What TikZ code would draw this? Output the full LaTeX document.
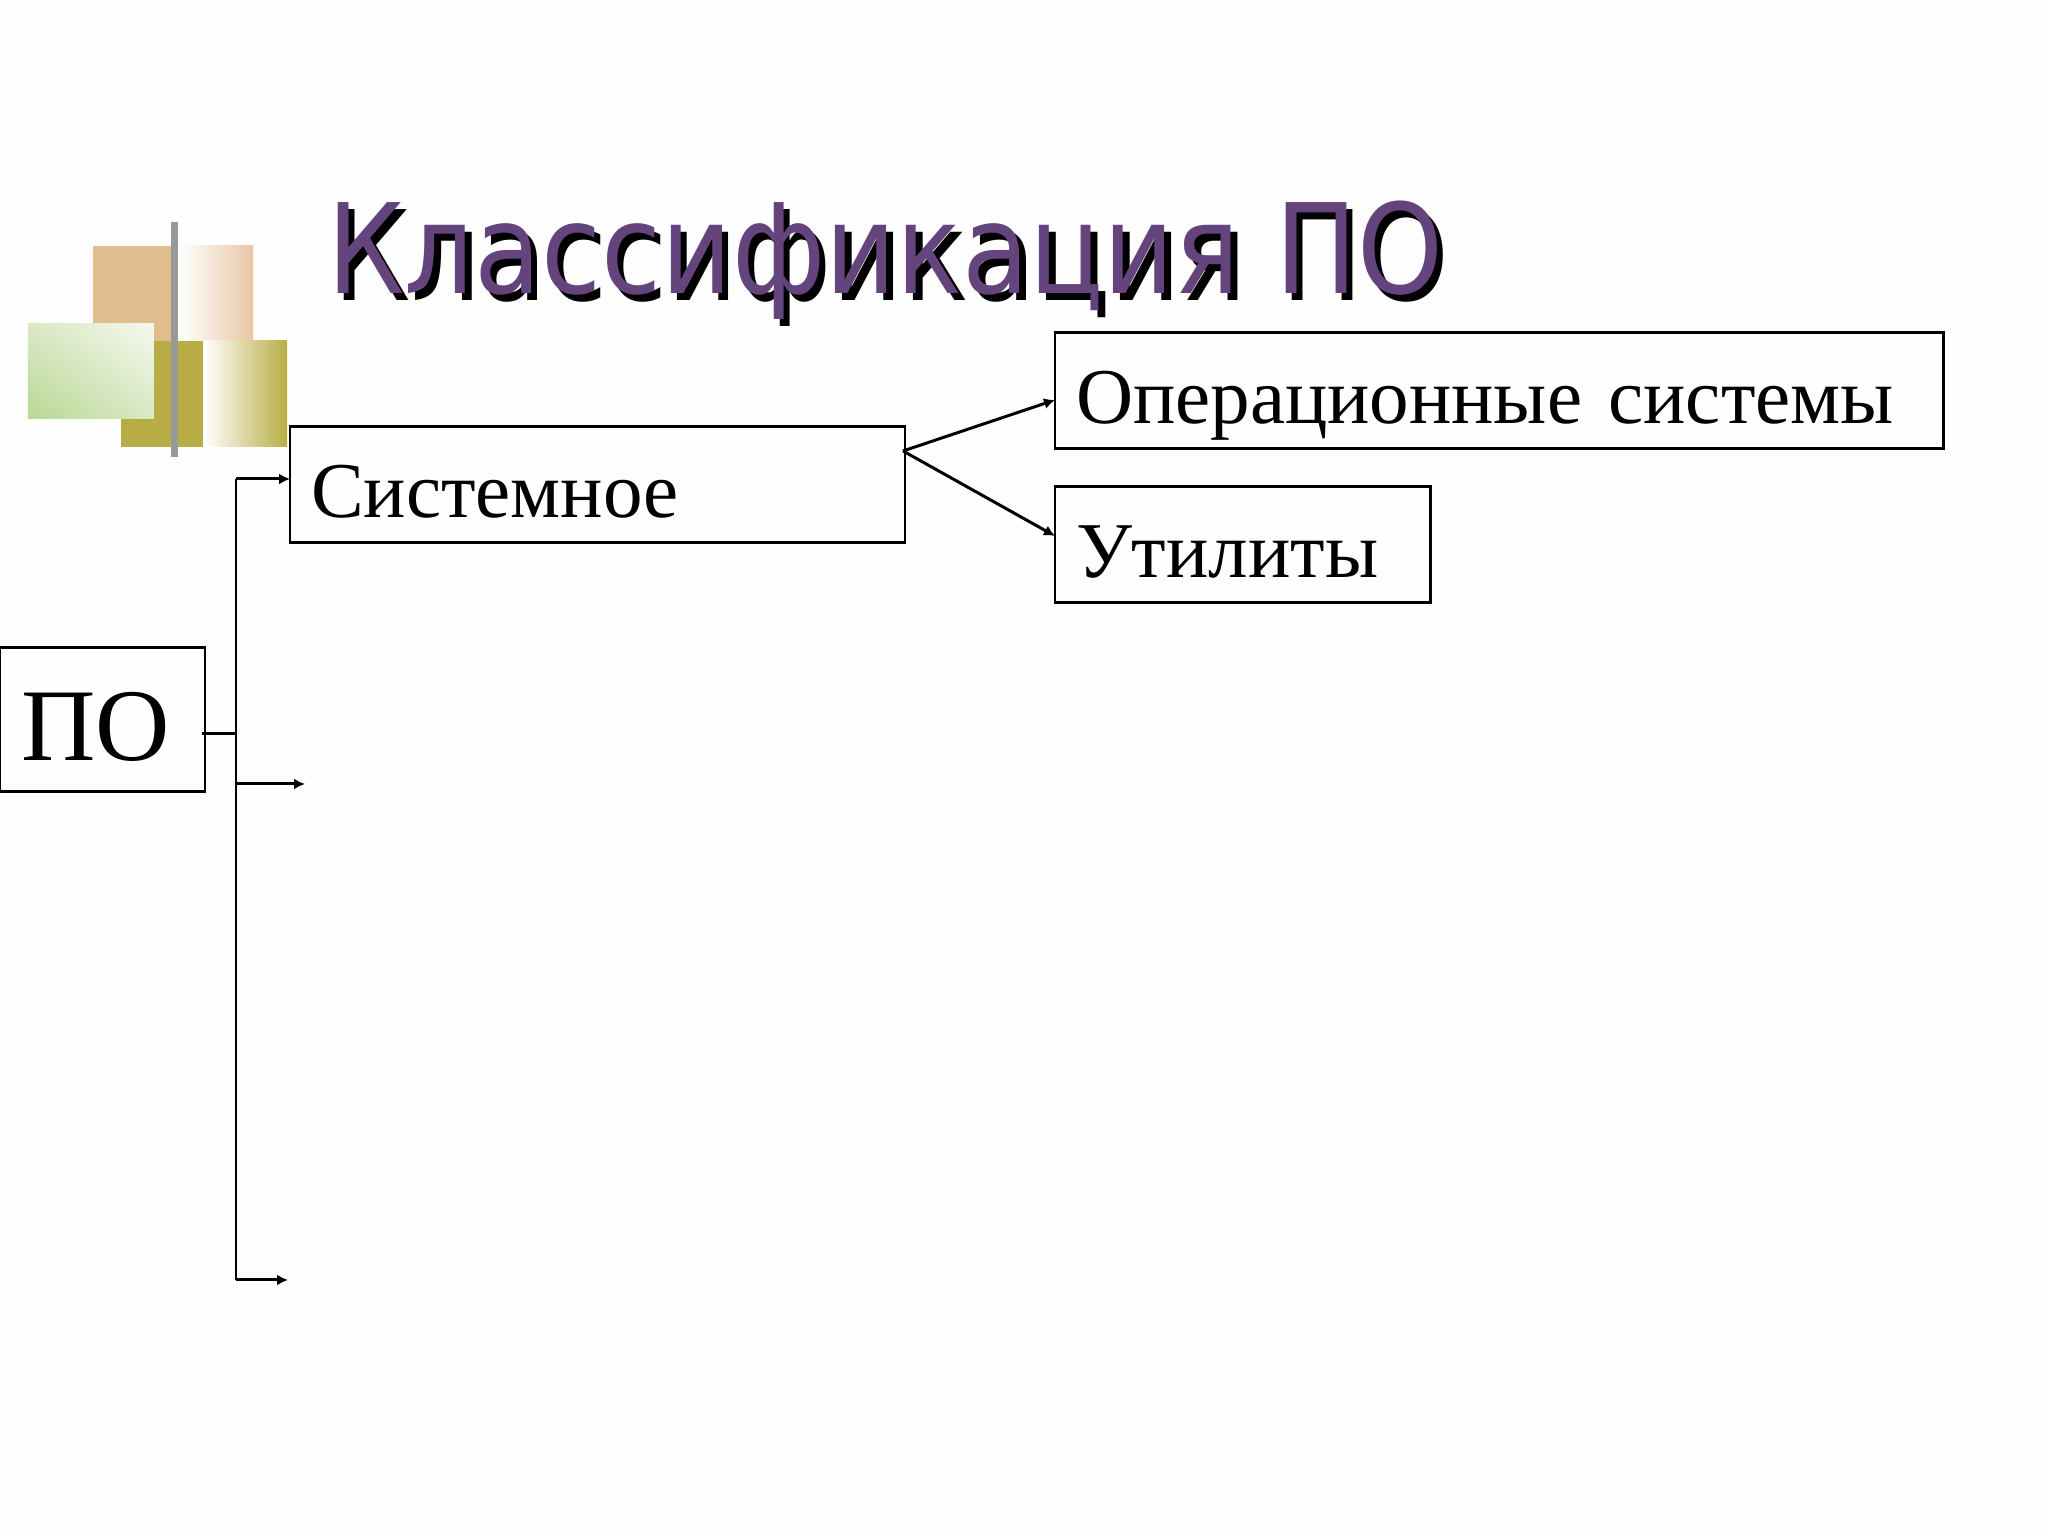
\documentclass[tikz,border=0pt]{standalone}
\usepackage{fontspec}
\setmainfont{Liberation Serif}
\newfontfamily\titlefont{DejaVu Sans}[FakeStretch=0.875]
\usetikzlibrary{arrows.meta,shadings}
\definecolor{pagewhite}{RGB}{254,254,254}
\definecolor{titlepurple}{RGB}{100,68,125}
\definecolor{logotan}{RGB}{224,189,140}
\definecolor{logotanlight}{RGB}{232,200,165}
\definecolor{logoolive}{RGB}{184,173,69}
\definecolor{logogreen}{RGB}{184,216,148}
\definecolor{logogreenlight}{RGB}{244,248,238}
\definecolor{logogreenmid}{RGB}{218,232,196}
\tikzset{
  boxnode/.style={draw=black, line width=0.85pt, rectangle, inner sep=0pt, inner xsep=0.21cm, outer sep=0pt,
    align=left, minimum height=1.16cm, text height=0.66cm, text depth=0pt, font=\fontsize{22.5pt}{25pt}\selectfont},
  titlenode/.style={anchor=base west, inner sep=0pt, font=\titlefont\fontsize{35.5pt}{40pt}\selectfont},
}
\begin{document}
\begin{tikzpicture}[%
      >={Latex[length=0.11cm,width=0.11cm]},
      ]
      \useasboundingbox (0,0) rectangle (20.48,15.36);
      \fill [color=pagewhite] (0,0) rectangle (20.48,15.36);

      \fill [color=logotan] (0.93,11.95) rectangle (1.71,12.90);
      \shade [left color=white, right color=logotanlight] (1.78,11.95) rectangle (2.53,12.90);
      \fill [color=logoolive] (1.21,10.89) rectangle (2.03,11.95);
      \shade [left color=white, right color=logoolive] (2.04,10.89) rectangle (2.87,11.95);
      \shade [lower left=logogreen, upper right=logogreenlight, upper left=logogreenmid, lower right=logogreenmid] (0.28,11.17) rectangle (1.54,12.12);
      \fill [color=gray!80] (1.71,10.79) rectangle (1.78,13.14);

      \node [titlenode, color=black] (titleshadow) at (3.33,12.355) {Классификация ПО};
      \node [titlenode, color=titlepurple] (title) at (3.265,12.42) {Классификация ПО};

      \node [boxnode, text width=5.73cm] (sys) at (5.975,10.51) {Системное};
      \node [boxnode, text width=8.46cm] (os) at (14.99,11.45) {Операционные системы};
      \node [boxnode, text width=3.33cm] (util) at (12.425,9.915) {Утилиты};
      \node [boxnode, text width=1.63cm, minimum height=1.44cm, text height=0.82cm,
        font=\fontsize{29.3pt}{32pt}\selectfont] (po) at (1.025,8.16) {ПО};

      \coordinate (trunktop) at (2.36,10.57);
      \coordinate (trunkjoin) at (2.36,8.02);
      \coordinate (trunkmid) at (2.36,7.52);
      \coordinate (trunkbot) at (2.36,2.56);
      \coordinate (midend) at (3.05,7.52);
      \coordinate (botend) at (2.88,2.56);

      \draw [line width=0.85pt] (trunktop) -- (trunkbot);
      \draw [line width=0.85pt] ([xshift=-0.03cm]po.east |- trunkjoin) -- (trunkjoin);
      \draw [line width=0.85pt,->] (trunktop) -- (sys.west |- trunktop);
      \draw [line width=0.85pt,->] (trunkmid) -- (midend);
      \draw [line width=0.85pt,->] (trunkbot) -- (botend);

      \draw [line width=0.85pt,->] ([xshift=-0.02cm,yshift=0.34cm]sys.east) -- ([yshift=-0.09cm]os.west);
      \draw [line width=0.85pt,->] ([xshift=-0.02cm,yshift=0.34cm]sys.east) -- ([yshift=0.085cm]util.west);
\end{tikzpicture}
\end{document}
